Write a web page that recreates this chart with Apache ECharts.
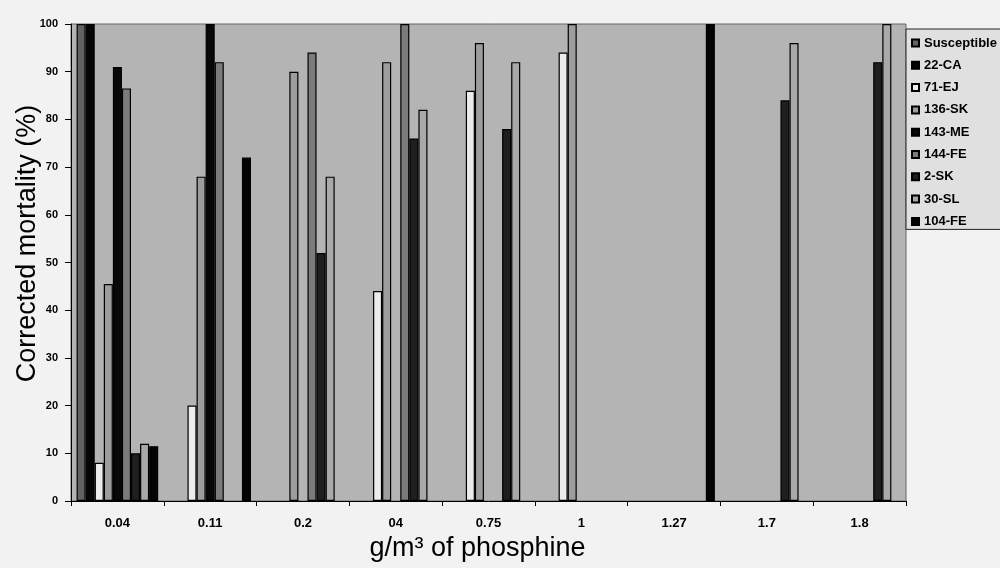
<!DOCTYPE html>
<html>
<head>
<meta charset="utf-8">
<script src="https://cdn.jsdelivr.net/npm/echarts@6/dist/echarts.min.js"></script>
<style>
  html, body { margin: 0; padding: 0; background: #f2f2f2; }
  #chart { width: 1000px; height: 568px; }
</style>
</head>
<body>
<div id="chart"></div>
<script>
const categories = ['0.04', '0.11', '0.2', '04', '0.75', '1', '1.27', '1.7', '1.8'];
const seriesNames = ['Susceptible', '22-CA', '71-EJ', '136-SK', '143-ME', '144-FE', '2-SK', '30-SL', '104-FE'];
const susceptible = [100, null, null, null, null, null, null, null, null];
const ca22 = [100, null, null, null, null, null, null, null, null];
const ej71 = [8, 20, null, 44, 86, 94, null, null, null];
const sk136 = [45.5, 68, 90, 92, 96, 100, null, null, null];
const me143 = [91, 100, null, null, null, null, null, null, null];
const fe144 = [86.5, 92, 94, 100, null, null, null, null, null];
const sk2 = [10, null, 52, 76, 78, null, null, 84, 92];
const sl30 = [12, null, 68, 82, 92, null, null, 96, 100];
const fe104 = [11.5, 72, null, null, null, null, 100, null, null];
const yTicks = [0, 10, 20, 30, 40, 50, 60, 70, 80, 90, 100];

const seriesData = [susceptible, ca22, ej71, sk136, me143, fe144, sk2, sl30, fe104];
const colors = ['#626262', '#050505', '#ececec', '#9d9d9d', '#080808', '#7b7b7b', '#1f1f1f', '#a9a9a9', '#030303'];

const font = "'Liberation Sans', Arial, sans-serif";
const chart = echarts.init(document.getElementById('chart'), null, { renderer: 'canvas' });

chart.setOption({
  backgroundColor: '#f2f2f2',
  animation: false,
  textStyle: { fontFamily: font },
  grid: {
    left: 71, right: 94, top: 24, bottom: 67,
    containLabel: false,
    outerBoundsMode: 'none',
    show: true, backgroundColor: '#b4b4b4', borderColor: '#666', borderWidth: 1
  },
  legend: {
    data: seriesNames,
    orient: 'vertical',
    left: 906, top: 29,
    backgroundColor: '#e0e0e0',
    borderColor: '#222', borderWidth: 1,
    padding: [7, 8, 1, 5],
    itemWidth: 7, itemHeight: 7, itemGap: 8.3,
    icon: 'rect',
    textStyle: { fontFamily: font, fontSize: 13, fontWeight: 'bold', color: '#000', lineHeight: 14 }
  },
  xAxis: {
    type: 'category',
    data: categories,
    name: 'g/m³ of phosphine',
    nameLocation: 'middle',
    nameGap: 34,
    nameMoveOverlap: false,
    nameTextStyle: { fontFamily: font, fontSize: 27, color: '#000', padding: [0, 22, 0, 0] },
    axisLine: { lineStyle: { color: '#000', width: 1 } },
    axisTick: { show: true, length: 5, lineStyle: { color: '#000' } },
    axisLabel: { fontFamily: font, fontSize: 13, fontWeight: 'bold', color: '#000', margin: 16 }
  },
  yAxis: {
    type: 'value',
    min: 0, max: 100, interval: 10,
    name: 'Corrected mortality (%)',
    nameLocation: 'middle',
    nameGap: 30,
    nameMoveOverlap: false,
    nameTextStyle: { fontFamily: font, fontSize: 27, color: '#000', padding: [0, 0, 0, 38] },
    axisLine: { show: true, lineStyle: { color: '#000', width: 1 } },
    axisTick: { show: true, length: 6, lineStyle: { color: '#000' } },
    splitLine: { show: false },
    axisLabel: {
      fontFamily: font, fontSize: 11, fontWeight: 'bold', color: '#000', margin: 13,
      formatter: v => (yTicks.includes(v) ? String(v) : '')
    }
  },
  series: seriesNames.map((name, i) => ({
    name: name,
    type: 'bar',
    data: seriesData[i],
    barGap: '0%',
    barCategoryGap: '12%',
    itemStyle: { color: colors[i], borderColor: '#000', borderWidth: 1.2 }
  }))
});
</script>
</body>
</html>
